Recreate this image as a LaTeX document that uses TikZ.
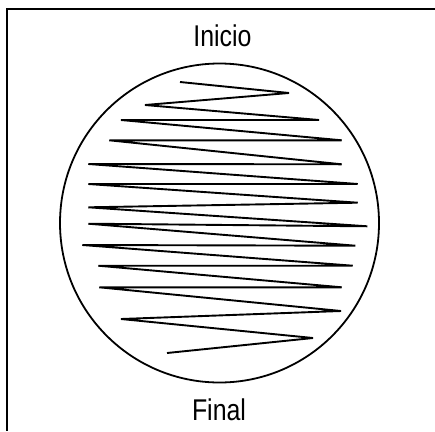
\documentclass[tikz,border=0pt]{standalone}
\usepackage{fontspec}
\setmainfont[FakeStretch=0.83]{Liberation Sans}
\begin{document}
\begin{tikzpicture}[x=1pt,y=-1pt,
  frame/.style={line width=2pt},
  plate/.style={line width=1.8pt},
  streak/.style={line width=1.9pt,line join=bevel},
  lbl/.style={font=\fontsize{30}{30}\selectfont,anchor=base,inner sep=0pt}]
\useasboundingbox (0,0) rectangle (435,431);
\draw[frame] (435,9.3) -- (7,9.3) -- (7,431);
\node[lbl] (inicio) at (222.5,46.7) {Inicio};
\node[lbl] (final) at (219,420) {Final};
\draw[plate] (219.5,223) circle[radius=159.5];
\draw[streak] (180,82) -- (289,93) -- (145,105) -- (319,120) -- (121,120)
  -- (341.7,140.3) -- (109.3,140.3) -- (341.7,164.3) -- (88.3,164)
  -- (357.7,184) -- (88.3,184) -- (357.7,202.7) -- (88.3,207.3)
  -- (367.3,226.3) -- (88.3,223.7) -- (355.3,245.7) -- (82.3,245)
  -- (352.7,265.7) -- (98.3,265.7) -- (341.7,287.3) -- (99.3,287.3)
  -- (341,311) -- (121,319) -- (313,338) -- (167,353);
\end{tikzpicture}
\end{document}
